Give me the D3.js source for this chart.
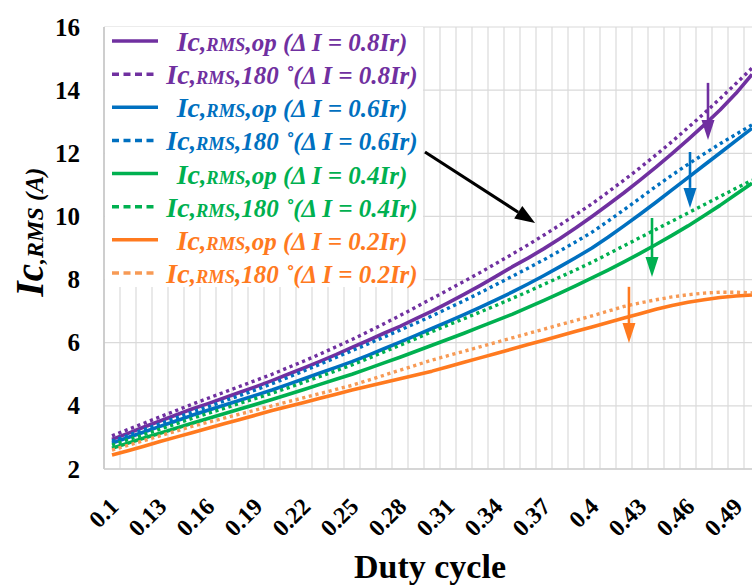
<!DOCTYPE html>
<html>
<head>
<meta charset="utf-8">
<script src="https://cdn.jsdelivr.net/npm/d3@7"></script>
<style>
  body { margin: 0; background: #fff; }
  svg { display: block; }
</style>
</head>
<body>
<svg id="chart" width="752" height="586"></svg>
<script>
// Duty cycle categories (one point per 0.01 step)
const duty = [0.1, 0.11, 0.12, 0.13, 0.14, 0.15, 0.16, 0.17, 0.18, 0.19,
  0.2, 0.21, 0.22, 0.23, 0.24, 0.25, 0.26, 0.27, 0.28, 0.29,
  0.3, 0.31, 0.32, 0.33, 0.34, 0.35, 0.36, 0.37, 0.38, 0.39,
  0.4, 0.41, 0.42, 0.43, 0.44, 0.45, 0.46, 0.47, 0.48, 0.49, 0.5];

const xTickLabels = ["0.1", "0.13", "0.16", "0.19", "0.22", "0.25", "0.28", "0.31",
  "0.34", "0.37", "0.4", "0.43", "0.46", "0.49"];
const yTicks = [2, 4, 6, 8, 10, 12, 14, 16];

// Capacitor RMS current (A), optimal phase shift vs. 180° interleaving
const iOp08 = [2.94, 3.13, 3.33, 3.52, 3.71, 3.90, 4.07, 4.25, 4.43, 4.61,
  4.80, 5.00, 5.20, 5.41, 5.62, 5.85, 6.07, 6.30, 6.52, 6.76,
  7.00, 7.26, 7.53, 7.81, 8.10, 8.40, 8.68, 8.98, 9.30, 9.64,
  10.00, 10.37, 10.75, 11.15, 11.56, 11.99, 12.43, 12.89, 13.37, 13.90, 14.50];
const i180_08 = [3.05, 3.25, 3.45, 3.65, 3.85, 4.05, 4.24, 4.43, 4.62, 4.81,
  5.00, 5.21, 5.42, 5.64, 5.87, 6.10, 6.35, 6.60, 6.86, 7.13,
  7.40, 7.67, 7.94, 8.22, 8.51, 8.80, 9.10, 9.41, 9.73, 10.06,
  10.40, 10.77, 11.15, 11.54, 11.95, 12.37, 12.81, 13.26, 13.73, 14.21, 14.70];
const iOp06 = [2.82, 3.00, 3.17, 3.35, 3.52, 3.70, 3.86, 4.02, 4.18, 4.34,
  4.50, 4.68, 4.86, 5.04, 5.22, 5.40, 5.60, 5.81, 6.02, 6.23,
  6.45, 6.67, 6.89, 7.12, 7.36, 7.60, 7.86, 8.13, 8.41, 8.70,
  9.00, 9.34, 9.70, 10.07, 10.45, 10.84, 11.23, 11.62, 12.01, 12.40, 12.79];
const i180_06 = [2.88, 3.06, 3.25, 3.43, 3.62, 3.80, 3.97, 4.15, 4.33, 4.51,
  4.70, 4.90, 5.11, 5.32, 5.53, 5.75, 5.96, 6.18, 6.40, 6.62,
  6.85, 7.09, 7.33, 7.58, 7.84, 8.10, 8.36, 8.63, 8.91, 9.20,
  9.50, 9.85, 10.21, 10.58, 10.95, 11.31, 11.65, 11.98, 12.30, 12.60, 12.90];
const iOp04 = [2.66, 2.82, 2.98, 3.13, 3.29, 3.45, 3.60, 3.75, 3.90, 4.05,
  4.20, 4.36, 4.52, 4.68, 4.84, 5.00, 5.18, 5.36, 5.54, 5.73,
  5.92, 6.11, 6.30, 6.50, 6.70, 6.90, 7.12, 7.34, 7.57, 7.81,
  8.05, 8.30, 8.56, 8.83, 9.11, 9.40, 9.70, 10.02, 10.35, 10.70, 11.05];
const i180_04 = [2.76, 2.93, 3.09, 3.26, 3.43, 3.60, 3.76, 3.92, 4.08, 4.24,
  4.40, 4.57, 4.75, 4.93, 5.11, 5.30, 5.50, 5.71, 5.92, 6.13,
  6.35, 6.56, 6.76, 6.97, 7.18, 7.40, 7.62, 7.85, 8.08, 8.31,
  8.55, 8.81, 9.07, 9.33, 9.59, 9.85, 10.11, 10.37, 10.63, 10.89, 11.15];
const iOp02 = [2.44, 2.58, 2.72, 2.87, 3.01, 3.15, 3.29, 3.43, 3.57, 3.71,
  3.85, 3.98, 4.11, 4.24, 4.37, 4.50, 4.62, 4.74, 4.86, 4.98,
  5.10, 5.24, 5.38, 5.52, 5.66, 5.80, 5.94, 6.08, 6.22, 6.36,
  6.50, 6.64, 6.78, 6.92, 7.06, 7.18, 7.28, 7.36, 7.43, 7.48, 7.51];
const i180_02 = [2.60, 2.75, 2.90, 3.05, 3.20, 3.35, 3.48, 3.61, 3.74, 3.87,
  4.00, 4.13, 4.26, 4.39, 4.52, 4.65, 4.81, 4.97, 5.13, 5.29,
  5.45, 5.59, 5.73, 5.87, 6.01, 6.15, 6.29, 6.43, 6.57, 6.71,
  6.85, 7.00, 7.15, 7.26, 7.36, 7.45, 7.52, 7.57, 7.60, 7.60, 7.58];

const rippleLabels = ["0.8Ir", "0.6Ir", "0.4Ir", "0.2Ir"];
const colorsSolid = ["#7030A0", "#0070C0", "#00B050", "#FF7A1F"];
const colorsDotted = ["#7030A0", "#0070C0", "#00B050", "#F79A55"];
const seriesOp = [iOp08, iOp06, iOp04, iOp02];
const series180 = [i180_08, i180_06, i180_04, i180_02];

// Annotation arrows in data units
const blackArrow = [0.2956, 12.04, 0.3644, 9.79];   // [duty from, current from, duty to, current to]
const dropArrows = [                                   // [duty, current from, current to]
  [0.4725, 14.23, 12.42],
  [0.46125, 12.04, 10.27],
  [0.4375, 9.95, 8.08],
  [0.4231, 7.77, 5.99]
];

const SERIF = "'Liberation Serif', 'Times New Roman', serif";
const svg = d3.select("#chart");

const plot = { left: 104, right: 760, top: 27, bottom: 469 };

const x = d3.scaleBand()
  .domain(duty.map(String))
  .range([plot.left, plot.right])
  .padding(0);
const bw = x.bandwidth();
const cx = d => x(String(d)) + bw / 2;
const xc = d3.scaleLinear()
  .domain([duty[0], duty[duty.length - 1]])
  .range([cx(duty[0]), cx(duty[duty.length - 1])]);
const y = d3.scaleLinear().domain([2, 16]).range([plot.bottom, plot.top]);

// Gridlines
const grid = svg.append("g").attr("stroke", "#DADADA").attr("stroke-width", 1.2);
grid.selectAll("line.v")
  .data(duty.map(String))
  .join("line")
  .attr("class", "v")
  .attr("x1", d => x(d)).attr("x2", d => x(d))
  .attr("y1", plot.top).attr("y2", plot.bottom);
grid.selectAll("line.h")
  .data(yTicks)
  .join("line")
  .attr("class", "h")
  .attr("x1", plot.left).attr("x2", plot.right)
  .attr("y1", d => y(d)).attr("y2", d => y(d));
svg.append("line")
  .attr("x1", plot.left).attr("x2", plot.left)
  .attr("y1", plot.top).attr("y2", plot.bottom)
  .attr("stroke", "#C4C4C4").attr("stroke-width", 1.5);
svg.append("line")
  .attr("x1", plot.left).attr("x2", plot.right)
  .attr("y1", plot.bottom).attr("y2", plot.bottom)
  .attr("stroke", "#CFCFCF").attr("stroke-width", 1.5);

// Axes
const gx = svg.append("g")
  .attr("transform", `translate(0,${plot.bottom})`)
  .call(d3.axisBottom(x).tickValues(xTickLabels).tickSize(0).tickPadding(0));
gx.select(".domain").remove();
gx.selectAll("text")
  .attr("font-family", SERIF).attr("font-size", 24).attr("font-weight", "bold")
  .attr("fill", "#000").attr("text-anchor", "end")
  .attr("x", 0).attr("y", 0).attr("dy", null)
  .attr("transform", "translate(8,39) rotate(-45)");

const gy = svg.append("g")
  .attr("transform", `translate(${plot.left},0)`)
  .call(d3.axisLeft(y).tickValues(yTicks).tickSize(0).tickPadding(24));
gy.select(".domain").remove();
gy.selectAll("text")
  .attr("font-family", SERIF).attr("font-size", 25).attr("font-weight", "bold")
  .attr("fill", "#000");

// Axis titles
svg.append("text")
  .attr("x", 430).attr("y", 578)
  .attr("text-anchor", "middle")
  .attr("font-family", SERIF).attr("font-size", 34).attr("font-weight", "bold")
  .text("Duty cycle");

const yTitle = svg.append("text")
  .attr("transform", "translate(43,232) rotate(-90)")
  .attr("text-anchor", "middle")
  .attr("font-family", SERIF).attr("font-weight", "bold").attr("font-style", "italic");
yTitle.append("tspan").attr("font-size", 39).text("Ic");
yTitle.append("tspan").attr("font-size", 24).text(",RMS");
yTitle.append("tspan").attr("font-size", 25).text(" (A)");

// Legend
const legend = svg.append("g");
legend.append("rect")
  .attr("x", plot.left + 1).attr("y", plot.top)
  .attr("width", 318).attr("height", 260)
  .attr("fill", "#fff");

const legendRows = [];
rippleLabels.forEach((lab, i) => {
  legendRows.push({ dotted: false, color: colorsSolid[i], textColor: colorsSolid[i], tail: `,op (Δ I = ${lab})` });
  legendRows.push({ dotted: true, color: colorsDotted[i], textColor: colorsSolid[i], tail: `,180 ˚(Δ I = ${lab})` });
});
const rowY = d3.scaleLinear().domain([0, 7]).range([51, 283]);

legendRows.forEach((r, i) => {
  const by = rowY(i);
  legend.append("line")
    .attr("x1", 112).attr("x2", 158)
    .attr("y1", by - 10).attr("y2", by - 10)
    .attr("stroke", r.color)
    .attr("stroke-width", 3.5)
    .attr("stroke-dasharray", r.dotted ? "7 4.5" : null);
  const t = legend.append("text")
    .attr("x", 292).attr("y", by)
    .attr("text-anchor", "middle")
    .attr("font-family", SERIF).attr("font-weight", "bold").attr("font-style", "italic")
    .attr("fill", r.textColor);
  t.append("tspan").attr("font-size", 28).text("Ic");
  t.append("tspan").attr("font-size", 25).text(",");
  t.append("tspan").attr("font-size", 18.5).text("RMS");
  t.append("tspan").attr("font-size", 25).text(r.tail);
});

// Series lines
const line = d3.line()
  .x((d, i) => cx(duty[i]))
  .y(d => y(d));

const lines = svg.append("g").attr("fill", "none").attr("stroke-linejoin", "round");
seriesOp.forEach((vals, i) => {
  lines.append("path")
    .attr("d", line(vals))
    .attr("stroke", colorsSolid[i])
    .attr("stroke-width", 3.6);
});
series180.forEach((vals, i) => {
  lines.append("path")
    .attr("d", line(vals))
    .attr("stroke", colorsDotted[i])
    .attr("stroke-width", 3.4)
    .attr("stroke-dasharray", "3.2 3.6");
});

// Arrows
function arrow(g, x1, y1, x2, y2, color, width, headLen, headW) {
  const ang = Math.atan2(y2 - y1, x2 - x1);
  const bx = x2 - headLen * Math.cos(ang), by = y2 - headLen * Math.sin(ang);
  g.append("line")
    .attr("x1", x1).attr("y1", y1).attr("x2", bx).attr("y2", by)
    .attr("stroke", color).attr("stroke-width", width);
  const px = -Math.sin(ang) * headW / 2, py = Math.cos(ang) * headW / 2;
  g.append("path")
    .attr("d", `M${x2},${y2}L${bx + px},${by + py}L${bx - px},${by - py}Z`)
    .attr("fill", color);
}
const ann = svg.append("g");
arrow(ann, xc(blackArrow[0]), y(blackArrow[1]), xc(blackArrow[2]), y(blackArrow[3]), "#000", 3, 20, 15);
dropArrows.forEach((a, i) => {
  arrow(ann, xc(a[0]), y(a[1]), xc(a[0]), y(a[2]), colorsSolid[i], 2.6, 20, 13);
});
</script>
</body>
</html>
